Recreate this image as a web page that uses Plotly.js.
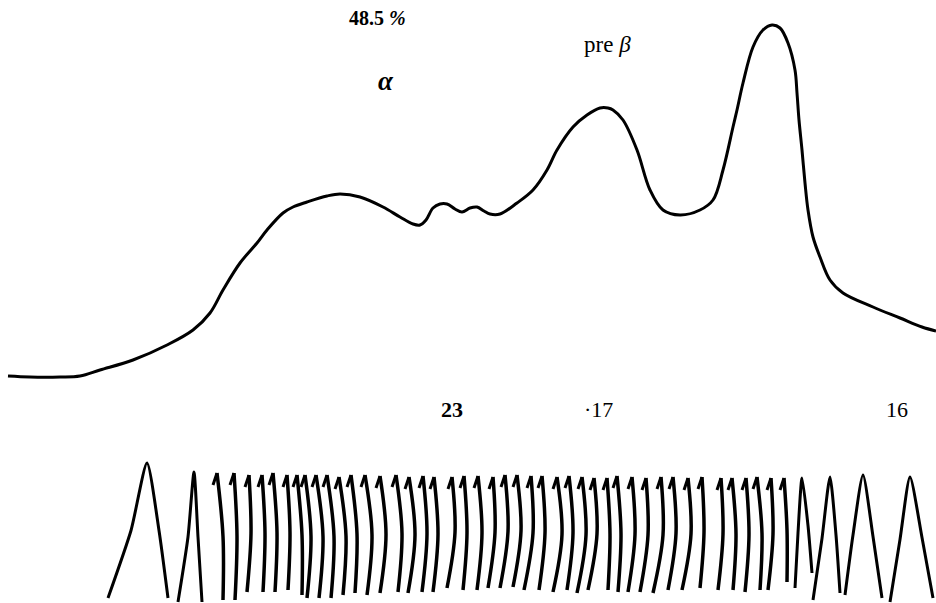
<!DOCTYPE html>
<html>
<head>
<meta charset="utf-8">
<script src="https://cdn.plot.ly/plotly-3.0.1.min.js"></script>
<style>html,body{margin:0;padding:0;background:#fff;}#chart{width:936px;height:603px;}</style>
</head>
<body>
<div id="chart"></div>
<script>
// Densitometer scan (position along strip, deflection measured downward from top edge)
const scanX = [8,30,60,80,100,133,167,193,210,223,240,257,267,283,293,307,327,340,360,383,400,413,420,426,433,440,447,455,462,470,477,484,490,500,517,533,547,557,573,587,600,608,613,623,637,650,663,680,700,713,723,733,737,743,753,763,772,780,788,795,797,799,802,805,808,813,820,830,843,873,900,922,936];
const scanY = [376,377,377,376,370,360,345,330,313,290,263,243,230,213,207,202,196,194,197,207,217,224,225,220,208,204,204,209,212,208,207,211,214,214,203,190,170,150,127,115,108,108,110,120,150,190,210,215,210,200,170,127,110,83,47,30,25,28,43,70,93,120,150,183,210,237,257,280,293,307,318,327,331];

// Integrator pen: narrow strokes (top, bulge, bottom positions)
const penTopX = [217,234,249,262,273,287,297,305,316,327,339,351,365,380,396,409,423,434,452,464,478,493,505,517,531,542,557,569,582,594,607,617,632,646,661,673,688,702,721,732,746,757,771,784];
const penMidX = [223,237,251,265,277,290,302,311,323,334,346,357,372,386,402,415,427,438,455,467,482,495,508,521,533,545,562,573,586,597,610,621,635,648,663,676,691,704,723,736,749,762,773,787];
const penBotX = [223,235,247,263,275,288,302,307,319,331,343,355,367,380,398,408,422,433,447,463,477,488,500,513,524,539,553,567,577,588,608,618,628,640,653,668,682,700,718,733,745,760,768,787];
const penTopY = [473,473,475,475,473,475,475,475,475,475,477,475,475,476,475,477,476,477,477,476,476,477,475,475,476,476,477,476,477,478,478,476,477,478,477,477,478,477,478,478,478,477,478,478];
const penBotY = [600,600,592,592,592,590,595,598,598,598,595,593,595,593,592,593,592,592,588,590,590,588,588,587,590,590,592,590,593,590,590,592,592,592,593,590,590,588,590,590,592,590,590,582];

// Integrator pen: wide strokes (up-stroke base, top, down-stroke base)
const wideUpX   = [108,178,795,813,845,890];
const wideUpY   = [598,602,588,600,595,602];
const wideUpMid = [131,188,798,822,853,900];
const wideTopX  = [147,194,802,830,863,910];
const wideTopY  = [463,472,478,477,475,477];
const wideDnMid = [159,198,808,836,873,922];
const wideDnX   = [168,202,812,840,882,933];
const wideDnY   = [598,602,573,593,598,598];

// Labels
const labelText = ["48.5 %", "α", "pre β", "23", "·17", "16"];

// build pen paths
const bodyX = [], bodyY = [], hookX = [], hookY = [];
for (let i = 0; i < penTopX.length; i++) {
  const midY = (penTopY[i] + penBotY[i]) / 2;
  bodyX.push(penBotX[i], penMidX[i], penTopX[i], null);
  bodyY.push(penBotY[i], midY, penTopY[i], null);
  hookX.push(penTopX[i] - 4, penTopX[i], null);
  hookY.push(penTopY[i] + 12, penTopY[i], null);
}
const wX = [], wY = [];
for (let i = 0; i < wideTopX.length; i++) {
  const mU = (wideUpY[i] + wideTopY[i]) / 2, mD = (wideDnY[i] + wideTopY[i]) / 2;
  wX.push(wideUpX[i], wideUpMid[i], wideTopX[i], wideDnMid[i], wideDnX[i], null);
  wY.push(wideUpY[i], mU, wideTopY[i], mD, wideDnY[i], null);
}

const ink = '#000';
const traces = [
  {x: scanX, y: scanY, type: 'scatter', mode: 'lines', line: {color: ink, width: 3, shape: 'spline', smoothing: 1}, hoverinfo: 'skip'},
  {x: bodyX, y: bodyY, type: 'scatter', mode: 'lines', line: {color: ink, width: 3.5, shape: 'spline', smoothing: 1}, connectgaps: false, hoverinfo: 'skip'},
  {x: hookX, y: hookY, type: 'scatter', mode: 'lines', line: {color: ink, width: 3}, connectgaps: false, hoverinfo: 'skip'},
  {x: wX, y: wY, type: 'scatter', mode: 'lines', line: {color: ink, width: 3, shape: 'spline', smoothing: 0.6}, connectgaps: false, hoverinfo: 'skip'}
];

const fnt = (s, w) => ({family: 'Liberation Serif, DejaVu Serif, serif', size: s, color: ink, weight: w || 'normal'});
const ann = [
  {x: 377, y: 18, text: '48.5 <i>%</i>', font: fnt(20, 'bold')},
  {x: 386, y: 81, text: '<i>α</i>', font: fnt(27, 'bold')},
  {x: 607, y: 44, text: 'pre <i>β</i>', font: fnt(23)},
  {x: 452, y: 409, text: labelText[3], font: fnt(22, 'bold')},
  {x: 598, y: 409, text: labelText[4], font: fnt(22)},
  {x: 897, y: 409, text: labelText[5], font: fnt(22)}
].map(a => Object.assign({xref: 'x', yref: 'y', showarrow: false, xanchor: 'center', yanchor: 'middle'}, a));

const layout = {
  width: 936, height: 603,
  margin: {l: 0, r: 0, t: 0, b: 0},
  paper_bgcolor: '#fff', plot_bgcolor: '#fff',
  showlegend: false,
  xaxis: {range: [0, 936], visible: false, fixedrange: true},
  yaxis: {range: [603, 0], visible: false, fixedrange: true},
  annotations: ann
};
Plotly.newPlot('chart', traces, layout, {staticPlot: true, displayModeBar: false});
</script>
</body>
</html>
